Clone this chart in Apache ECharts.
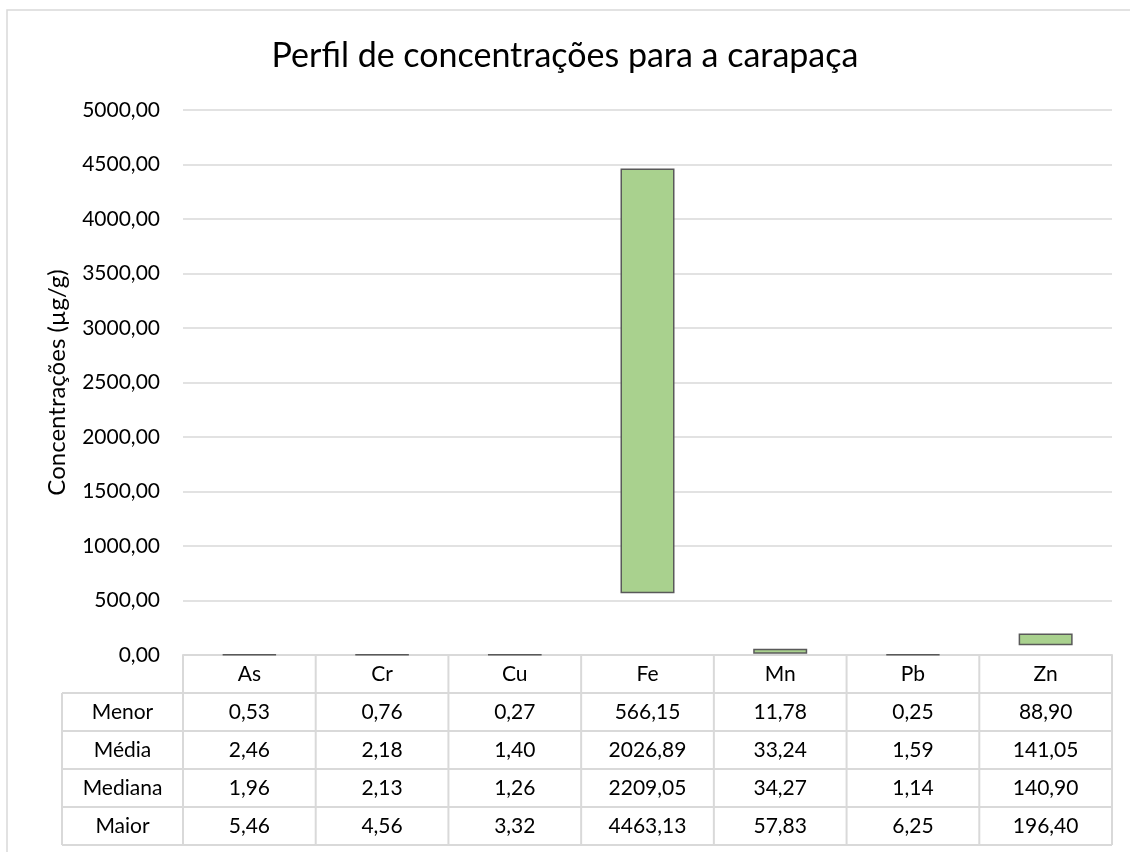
<!DOCTYPE html>
<html>
<head>
<meta charset="utf-8">
<script src="https://cdn.jsdelivr.net/npm/echarts@6/dist/echarts.min.js"></script>
<style>
html,body{margin:0;padding:0;background:#fff;}
#main{width:1130px;height:852px;}
</style>
</head>
<body>
<div id="main"></div>
<script>
var categories = ['As','Cr','Cu','Fe','Mn','Pb','Zn'];
var rowLabels = ['Menor','Média','Mediana','Maior'];
var menor   = [0.53, 0.76, 0.27, 566.15, 11.78, 0.25, 88.90];
var media   = [2.46, 2.18, 1.40, 2026.89, 33.24, 1.59, 141.05];
var mediana = [1.96, 2.13, 1.26, 2209.05, 34.27, 1.14, 140.90];
var maior   = [5.46, 4.56, 3.32, 4463.13, 57.83, 6.25, 196.40];
var rows = [menor, media, mediana, maior];

var fontFam = 'Lato, "Open Sans", sans-serif';
var gridLeft = 183, gridRight = 1112, gridTop = 110, gridBottom = 655;
var rowH = 38, tableLeft = 62;
var lineCol = '#d9d9d9';
var fs = 21;

function fmt(v){ return v.toFixed(2).replace('.', ','); }

var myChart = echarts.init(document.getElementById('main'));

// parte flutuante da barra = maior - menor
var faixa = maior.map(function(v, i){ return +(v - menor[i]).toFixed(2); });

// tabela de dados desenhada com graphic
var graphic = [];
graphic.push({type:'rect', shape:{x:7, y:10, width:1140, height:860},
  style:{fill:'none', stroke:'#d9d9d9', lineWidth:1.5}, z:0, silent:true});
var colW = (gridRight - gridLeft) / categories.length;
var tableBottom = gridBottom + rowH * (rows.length + 1);
// linhas horizontais
for (var r = 1; r <= rows.length + 1; r++) {
  var y = gridBottom + rowH * r;
  graphic.push({type:'line', shape:{x1:tableLeft, y1:y, x2:gridRight, y2:y},
    style:{stroke:lineCol, lineWidth:2}, silent:true});
}
// linhas verticais
graphic.push({type:'line', shape:{x1:tableLeft, y1:gridBottom + rowH, x2:tableLeft, y2:tableBottom},
  style:{stroke:lineCol, lineWidth:2}, silent:true});
for (var c = 0; c <= categories.length; c++) {
  var x = gridLeft + colW * c;
  graphic.push({type:'line', shape:{x1:x, y1:gridBottom, x2:x, y2:tableBottom},
    style:{stroke:lineCol, lineWidth:2}, silent:true});
}
// textos
for (var r = 0; r < rows.length; r++) {
  var yc = gridBottom + rowH * (r + 1) + rowH / 2;
  graphic.push({type:'text', x:(tableLeft + gridLeft) / 2, y:yc,
    style:{text:rowLabels[r], font:fs + 'px ' + fontFam, fill:'#000', align:'center', verticalAlign:'middle'}, silent:true});
  for (var c = 0; c < categories.length; c++) {
    graphic.push({type:'text', x:gridLeft + colW * (c + 0.5), y:yc,
      style:{text:fmt(rows[r][c]), font:fs + 'px ' + fontFam, fill:'#000', align:'center', verticalAlign:'middle'}, silent:true});
  }
}
for (var c = 0; c < categories.length; c++) {
  graphic.push({type:'text', x:gridLeft + colW * (c + 0.5), y:gridBottom + rowH / 2,
    style:{text:categories[c], font:fs + 'px ' + fontFam, fill:'#000', align:'center', verticalAlign:'middle'}, silent:true});
}

var option = {
  animation: false,
  textStyle: {fontFamily: fontFam},
  title: {
    text: 'Perfil de concentrações para a carapaça',
    left: 'center', top: 34,
    textStyle: {fontSize: 34, fontWeight: 'normal', color: '#000', fontFamily: fontFam}
  },
  grid: {left: gridLeft, right: 1130 - gridRight, top: gridTop, bottom: 852 - gridBottom},
  xAxis: {
    type: 'category',
    data: categories,
    axisLine: {lineStyle: {color: lineCol, width: 2}},
    axisTick: {show: false},
    axisLabel: {show: false}
  },
  yAxis: {
    type: 'value',
    min: 0, max: 5000, interval: 500,
    name: 'Concentrações (µg/g)',
    nameLocation: 'middle',
    nameGap: 114,
    nameTextStyle: {fontSize: 24, color: '#000', fontFamily: fontFam},
    axisLabel: {formatter: function(v){ return fmt(v); }, fontSize: fs, color: '#000', margin: 23, fontFamily: fontFam},
    axisLine: {show: false},
    axisTick: {show: false},
    splitLine: {lineStyle: {color: lineCol, width: 1.5}}
  },
  series: [
    {
      name: 'Menor', type: 'bar', stack: 'faixa',
      data: menor,
      barWidth: 54,
      itemStyle: {color: 'transparent'},
      silent: true
    },
    {
      name: 'Faixa', type: 'bar', stack: 'faixa',
      data: faixa,
      barWidth: 54,
      itemStyle: {color: '#a9d18e', borderColor: '#595959', borderWidth: 1.5}
    }
  ],
  graphic: graphic
};

myChart.setOption(option);
</script>
</body>
</html>
